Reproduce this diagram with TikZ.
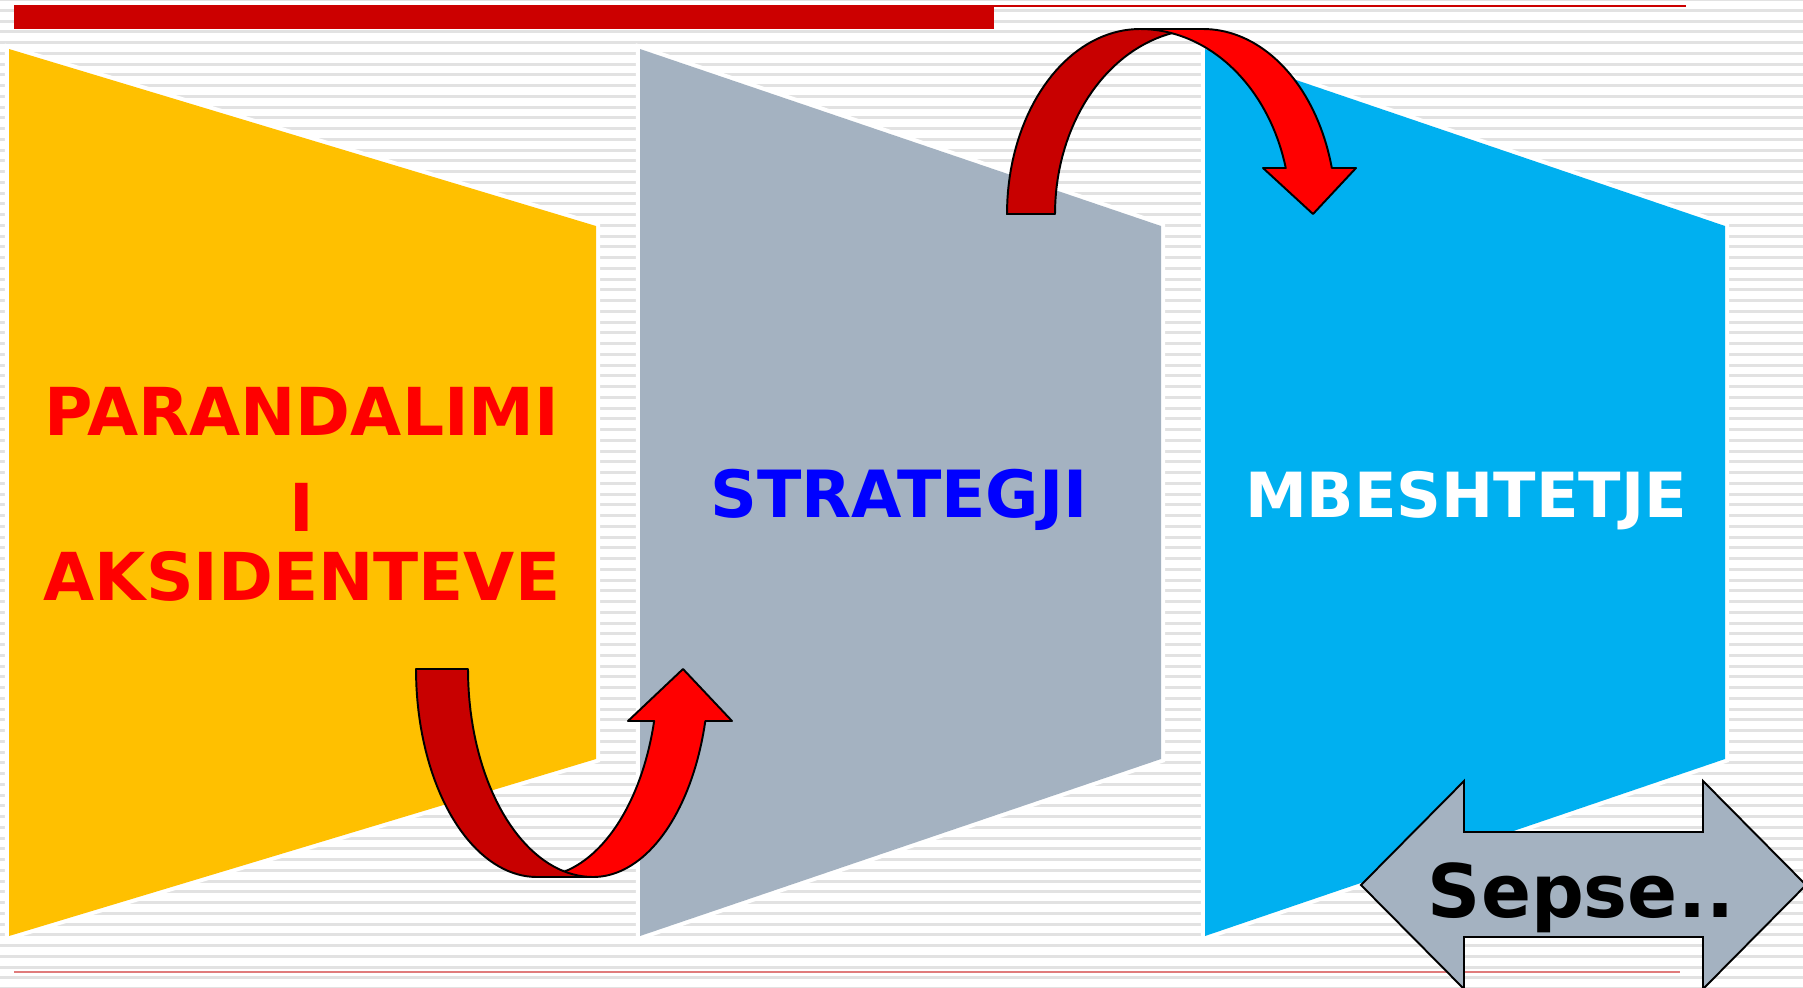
\documentclass[tikz,border=0pt]{standalone}
\usepackage{fontspec}
\setmainfont{DejaVu Sans}
\definecolor{barred}{HTML}{CC0000}
\definecolor{stripe}{HTML}{E2E2E2}
\definecolor{yel}{HTML}{FFC000}
\definecolor{gry}{HTML}{A4B2C1}
\definecolor{blu}{HTML}{00B0F0}
\definecolor{dred}{HTML}{C80000}
\definecolor{lred}{HTML}{FF0000}
\definecolor{pinkline}{HTML}{E07C7C}
\definecolor{txtblue}{HTML}{0000FF}
\begin{document}
\begin{tikzpicture}[x=0.01cm,y=-0.01cm,
  panel/.style={preaction={draw=white,line width=2.3pt,line join=miter}},
  band/.style={draw=black,line width=0.55pt,line join=round},
  lblA/.style={inner sep=0pt,anchor=base,font=\bfseries\fontsize{18.8pt}{20pt}\selectfont},
  lblB/.style={inner sep=0pt,anchor=base,font=\bfseries\fontsize{18.5pt}{20pt}\selectfont},
  lblC/.style={inner sep=0pt,anchor=base,font=\bfseries\fontsize{17.7pt}{20pt}\selectfont},
  lblD/.style={inner sep=0pt,anchor=base,font=\bfseries\fontsize{21pt}{24pt}\selectfont}]
\useasboundingbox (0,0) rectangle (1803,987);
\clip (0,0) rectangle (1803,987);
\fill[white] (0,0) rectangle (1803,987);
% background stripes
\foreach \i in {0,...,92}
  \fill[stripe] (0,{10.75*\i-1.8}) rectangle (1803,{10.75*\i+1.2});
% top bar and bottom line
\fill[barred] (14,5) rectangle (994,29);
\fill[barred] (994,5) rectangle (1686,7.2);
\fill[pinkline] (14,971) rectangle (1680,973);
% panels
\fill[yel,panel] (9,49) -- (596,226) -- (596,759) -- (9,936) -- cycle;
\fill[gry,panel] (640,49) -- (1161,226) -- (1161,759) -- (640,936) -- cycle;
\fill[blu,panel] (1205,49) -- (1725,226) -- (1725,759) -- (1205,936) -- cycle;
% texts
\node[lblA,text=lred] (t1) at (302,435) {PARANDALIMI};
\node[lblA,text=lred] (t2) at (302,531) {I};
\node[lblA,text=lred] (t3) at (302,600) {AKSIDENTEVE};
\node[lblB,text=txtblue] (s) at (899,517) {STRATEGJI};
\node[lblC,text=white] (m) at (1466,517) {MBESHTETJE};
% bottom curved arrow
\filldraw[band,fill=lred]
  plot[domain=90:14.48,samples=40,variable=\t] ({537+121*cos(\t)},{669+208*sin(\t)})
  -- (628,721) -- (683,669) -- (732,721)
  -- plot[domain=14.48:90,samples=40,variable=\t] ({593+116*cos(\t)},{669+208*sin(\t)})
  -- cycle;
\filldraw[band,fill=dred]
  plot[domain=0:90,samples=40,variable=\t] ({537-121*cos(\t)},{669+208*sin(\t)})
  -- plot[domain=90:0,samples=40,variable=\t] ({593-125*cos(\t)},{669+208*sin(\t)})
  -- cycle;
% top curved arrow
\filldraw[band,fill=dred]
  plot[domain=0:90,samples=40,variable=\t] ({1140-133*cos(\t)},{214-185*sin(\t)})
  -- plot[domain=90:0,samples=40,variable=\t] ({1203-148*cos(\t)},{214-185*sin(\t)})
  -- cycle;
\filldraw[band,fill=lred]
  plot[domain=90:14.4,samples=40,variable=\t] ({1140+150.5*cos(\t)},{214-185*sin(\t)})
  -- (1263,168) -- (1313,214) -- (1356,168)
  -- plot[domain=14.4:90,samples=40,variable=\t] ({1203+133*cos(\t)},{214-185*sin(\t)})
  -- cycle;
% double arrow
\filldraw[band,fill=gry,line join=miter] (1361,885) -- (1464,781) -- (1464,832) -- (1703,832)
  -- (1703,781) -- (1806,885) -- (1703,989) -- (1703,937) -- (1464,937) -- (1464,989) -- cycle;
\node[lblD,text=black] (sep) at (1581,917) {Sepse..};
\end{tikzpicture}
\end{document}
